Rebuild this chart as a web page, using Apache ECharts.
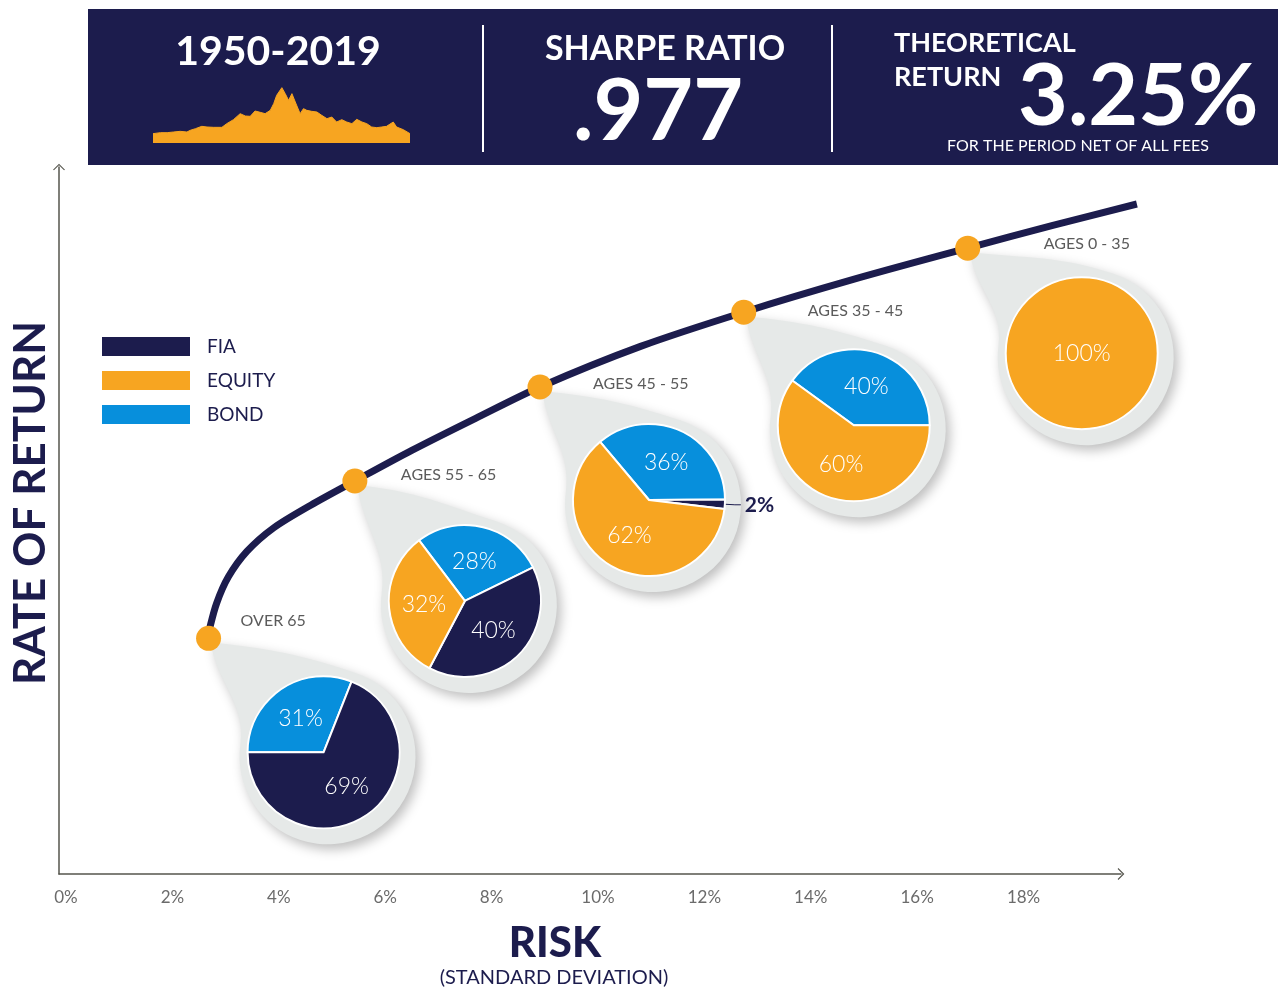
<!DOCTYPE html>
<html><head><meta charset="utf-8">
<script src="https://cdn.jsdelivr.net/npm/echarts@6/dist/echarts.min.js"></script>
<style>html,body{margin:0;padding:0;background:#fff}#c{width:1278px;height:988px}</style>
</head><body><div id="c"></div>
<script>
// ---------------- DATA ----------------
const headerPeriod = '1950-2019';
const sharpeLabel = 'SHARPE RATIO';
const sharpeRatio = '.977';
const theoreticalLabel = ['THEORETICAL', 'RETURN'];
const theoreticalReturn = '3.25%';
const periodNote = 'FOR THE PERIOD NET OF ALL FEES';

const sparkYears = [1950.0,1952.0,1953.8,1955.5,1957.3,1959.1,1960.0,1961.4,1963.1,1964.5,1966.3,1968.5,1969.8,1971.6,1973.4,1974.8,1976.1,1977.4,1978.8,1980.1,1981.5,1982.4,1983.2,1984.6,1985.5,1986.4,1987.3,1988.2,1989.5,1990.4,1991.3,1992.6,1994.0,1995.3,1996.7,1998.0,1998.4,1999.3,2000.7,2002.0,2003.4,2004.7,2006.1,2007.4,2008.7,2010.1,2011.4,2012.7,2014.5,2015.4,2017.2,2019.0];
const sparkValues = [28,31,31,33,35,33,38,43,50,48,47,47,58,70,88,81,80,96,92,88,98,118,143,166,148,128,148,123,88,103,98,95,93,83,73,78,83,63,70,63,58,71,63,58,48,46,48,50,63,48,40,28];

const riskTickStep = 2;   // tick labels every 2%
const riskTickLast = 18;  // last labelled tick: 18%
const curveRisk   = [2.67,2.70,2.83,3.05,3.40,3.90,4.60,5.43,6.50,7.70,8.91,10.80,12.74,14.80,16.95,18.55,20.13];
const curveReturn = [3.33,3.45,3.80,4.17,4.53,4.86,5.18,5.52,5.95,6.40,6.84,7.41,7.89,8.35,8.79,9.11,9.41];

const groupNames  = ['OVER 65','AGES 55 - 65','AGES 45 - 55','AGES 35 - 45','AGES 0 - 35'];
const groupRisk   = [2.68, 5.43, 8.91, 12.74, 16.95];
const groupReturn = [3.31, 5.52, 6.84, 7.89, 8.79];

const assetNames = ['FIA','EQUITY','BOND'];
const fiaPct    = [69, 40,  2,  0,   0];
const equityPct = [ 0, 32, 62, 60, 100];
const bondPct   = [31, 28, 36, 40,   0];

const xTitle = 'RISK';
const xSubtitle = '(STANDARD DEVIATION)';
const yTitle = 'RATE OF RETURN';

// ---------------- STYLE / LAYOUT ----------------
const NAVY = '#1c1c4d', ORANGE = '#f7a521', BLUE = '#078fdc', DROP = '#e6e9e8';
const FONT = 'Lato, "Noto Sans", sans-serif';
const assetColor = {FIA: NAVY, EQUITY: ORANGE, BOND: BLUE};
const pieOffset   = [[115,114],[110,120],[109,113],[110,113],[114,105]];
const pieStart    = [180, 127, 130, 144, 90];
const labelOffset = [[32,-17],[46,-6],[53,-3],[64,-1],[76,-4]];
const PIE_R = 76, BULB_R = 88, BULB_SHIFT = [4, 4];
const CHEVRON = 'path://M0,10 L10,0 L20,10 L18.4,11.2 L10,2.8 L1.6,11.2 Z';

function teardropPath(tx, ty, cx, cy, R) {
  const D = Math.PI / 180;
  const a1 = -72 * D, a2 = 188 * D;
  const p1 = [cx + R * Math.cos(a1), cy + R * Math.sin(a1)];
  const p2 = [cx + R * Math.cos(a2), cy + R * Math.sin(a2)];
  const t1 = [-Math.sin(a1), Math.cos(a1)];
  const t2 = [-Math.sin(a2), Math.cos(a2)];
  const d1 = Math.hypot(p1[0] - tx, p1[1] - ty), d2 = Math.hypot(p2[0] - tx, p2[1] - ty);
  const c1 = [tx + 0.42 * d1 * Math.cos(6 * D), ty + 0.42 * d1 * Math.sin(6 * D)];
  const c2 = [p1[0] - 0.40 * d1 * t1[0], p1[1] - 0.40 * d1 * t1[1]];
  const c3 = [p2[0] + 0.38 * d2 * t2[0], p2[1] + 0.38 * d2 * t2[1]];
  const c4 = [tx + 0.36 * d2 * Math.sin(8 * D), ty + 0.36 * d2 * Math.cos(8 * D)];
  const f = p => p[0].toFixed(2) + ',' + p[1].toFixed(2);
  return 'M' + f([tx, ty]) + ' C' + f(c1) + ' ' + f(c2) + ' ' + f(p1) +
         ' A' + R + ',' + R + ' 0 1 1 ' + f(p2) +
         ' C' + f(c3) + ' ' + f(c4) + ' ' + f([tx, ty]) + ' Z';
}

const chart = echarts.init(document.getElementById('c'));

const baseOption = {
  animation: false,
  backgroundColor: '#ffffff',
  textStyle: {fontFamily: FONT},
  legend: {
    data: assetNames, orient: 'vertical', left: 100, top: 335, padding: 0,
    itemWidth: 90, itemHeight: 21, itemGap: 11, icon: 'rect', selectedMode: false,
    textStyle: {color: NAVY, fontSize: 19, fontFamily: FONT, padding: [0, 0, 0, 11]}
  },
  grid: [
    {left: 66, right: 137.4, top: 162, bottom: 114},
    {left: 59, right: 157, top: 167, bottom: 114},
    {left: 153, width: 257, top: 87, height: 56}
  ],
  xAxis: [
    {gridIndex: 0, type: 'value', min: 0, max: 20.2, interval: riskTickStep,
     axisLine: {show: false}, axisTick: {show: false}, splitLine: {show: false},
     axisLabel: {formatter: v => (v <= riskTickLast ? v + '%' : ''), color: '#6b6b6b', fontSize: 17, margin: 15, showMaxLabel: false, fontFamily: FONT}},
    {gridIndex: 1, type: 'value', min: 0, max: 1,
     axisLine: {show: true, symbol: ['none', CHEVRON], symbolSize: [12, 7], lineStyle: {color: '#55554d', width: 1.5}},
     axisTick: {show: false}, axisLabel: {show: false}, splitLine: {show: false}},
    {gridIndex: 2, type: 'value', min: 1950, max: 2019, show: false}
  ],
  yAxis: [
    {gridIndex: 0, type: 'value', min: 0, max: 10, show: false},
    {gridIndex: 1, type: 'value', min: 0, max: 1,
     axisLine: {show: true, symbol: ['none', CHEVRON], symbolSize: [12, 7], lineStyle: {color: '#55554d', width: 1.5}},
     axisTick: {show: false}, axisLabel: {show: false}, splitLine: {show: false}},
    {gridIndex: 2, type: 'value', min: 0, max: 168, show: false}
  ],
  graphic: [
    {type: 'rect', shape: {x: 88, y: 9, width: 1190, height: 156}, style: {fill: NAVY}, z: 0},
    {type: 'line', shape: {x1: 483, y1: 25, x2: 483, y2: 152}, style: {stroke: '#fff', lineWidth: 2}},
    {type: 'line', shape: {x1: 832, y1: 25, x2: 832, y2: 152}, style: {stroke: '#fff', lineWidth: 2}},
    {type: 'text', x: 278, y: 52, style: {text: headerPeriod, fill: '#fff', fontSize: 41, fontWeight: 'bold', fontFamily: FONT, align: 'center', verticalAlign: 'middle'}},
    {type: 'text', x: 665, y: 49, style: {text: sharpeLabel, fill: '#fff', fontSize: 34, fontWeight: 'bold', fontFamily: FONT, align: 'center', verticalAlign: 'middle'}},
    {type: 'text', x: 658, y: 112, style: {text: sharpeRatio, fill: '#fff', fontSize: 86, fontWeight: 'bold', fontFamily: FONT, align: 'center', verticalAlign: 'middle'}},
    {type: 'text', x: 894, y: 43, style: {text: theoreticalLabel[0], fill: '#fff', fontSize: 27, fontWeight: 'bold', fontFamily: FONT, align: 'left', verticalAlign: 'middle'}},
    {type: 'text', x: 894, y: 77, style: {text: theoreticalLabel[1], fill: '#fff', fontSize: 27, fontWeight: 'bold', fontFamily: FONT, align: 'left', verticalAlign: 'middle'}},
    {type: 'text', x: 1018, y: 97, style: {text: theoreticalReturn, fill: '#fff', fontSize: 86, fontWeight: 'bold', fontFamily: FONT, align: 'left', verticalAlign: 'middle'}},
    {type: 'text', x: 1078, y: 146, style: {text: periodNote, fill: '#fff', fontSize: 16, fontFamily: FONT, align: 'center', verticalAlign: 'middle'}},
    {type: 'text', x: 31, y: 503, rotation: Math.PI / 2, style: {text: yTitle, fill: NAVY, fontSize: 44, fontWeight: 'bold', fontFamily: FONT, align: 'center', verticalAlign: 'middle'}},
    {type: 'text', x: 555, y: 943, style: {text: xTitle, fill: NAVY, fontSize: 42, fontWeight: 900, fontFamily: FONT, align: 'center', verticalAlign: 'middle'}},
    {type: 'text', x: 554, y: 978, style: {text: xSubtitle, fill: NAVY, fontSize: 20, fontFamily: FONT, align: 'center', verticalAlign: 'middle'}}
  ],
  series: [
    {
      type: 'custom', name: 'drops', xAxisIndex: 0, yAxisIndex: 0, z: 1, silent: true, clip: false,
      data: groupRisk.map((x, i) => [x, groupReturn[i]]),
      renderItem: function (params, api) {
        const i = params.dataIndex;
        const p = api.coord([api.value(0), api.value(1)]);
        const cx = p[0] + pieOffset[i][0] + BULB_SHIFT[0];
        const cy = p[1] + pieOffset[i][1] + BULB_SHIFT[1];
        return {
          type: 'path',
          shape: {pathData: teardropPath(p[0] + 2, p[1] + 4, cx, cy, BULB_R)},
          style: {fill: DROP, shadowBlur: 12, shadowColor: 'rgba(0,0,0,0.26)', shadowOffsetX: 4, shadowOffsetY: 5}
        };
      }
    },
    {
      type: 'line', name: 'frontier', xAxisIndex: 0, yAxisIndex: 0, z: 3, silent: true, clip: false,
      data: curveRisk.map((x, i) => [x, curveReturn[i]]),
      smooth: 0.3, showSymbol: false, symbol: 'none',
      lineStyle: {color: NAVY, width: 7}
    },
    {
      type: 'scatter', name: 'groups', xAxisIndex: 0, yAxisIndex: 0, z: 6, silent: true,
      symbolSize: 25, itemStyle: {color: ORANGE, opacity: 1},
      data: groupRisk.map((x, i) => ({
        name: groupNames[i], value: [x, groupReturn[i]],
        label: {show: true, formatter: '{b}', position: [labelOffset[i][0] + 12.5, labelOffset[i][1] + 12.5],
                align: 'left', verticalAlign: 'middle', color: '#5b5b5b', fontSize: 16, fontFamily: FONT}
      }))
    },
    {
      type: 'line', name: 'history', xAxisIndex: 2, yAxisIndex: 2, z: 5, silent: true,
      data: sparkYears.map((y, i) => [y, sparkValues[i]]),
      symbol: 'none', lineStyle: {color: ORANGE, width: 1}, areaStyle: {color: ORANGE, opacity: 1}
    }
  ]
};
chart.setOption(baseOption);

// pies positioned relative to the group points (via axis scales)
const pies = groupNames.map((g, i) => {
  const p = chart.convertToPixel({xAxisIndex: 0, yAxisIndex: 0}, [groupRisk[i], groupReturn[i]]);
  const vals = {BOND: bondPct[i], FIA: fiaPct[i], EQUITY: equityPct[i]};
  const data = ['BOND', 'FIA', 'EQUITY'].filter(n => vals[n] > 0).map(n => {
    const item = {name: n, value: vals[n], itemStyle: {color: assetColor[n]}};
    if (vals[n] < 5) {
      item.label = {position: 'outside', color: NAVY, fontSize: 21, fontWeight: 'bold', fontFamily: FONT, distanceToLabelLine: 4};
      item.labelLine = {show: true, length: 10, length2: 6, lineStyle: {color: NAVY, width: 1}};
    } else if (vals[n] === 100) {
      item.label = {position: 'center'};
    }
    return item;
  });
  return {
    type: 'pie', name: g, z: 4, silent: true,
    center: [p[0] + pieOffset[i][0], p[1] + pieOffset[i][1]],
    radius: PIE_R, startAngle: pieStart[i], clockwise: true,
    itemStyle: {borderColor: '#fff', borderWidth: 2},
    label: {show: true, position: 'inside', formatter: '{c}%', color: '#fff', fontSize: 23, fontWeight: 300, fontFamily: FONT},
    labelLine: {show: false},
    emphasis: {disabled: true},
    data: data
  };
});
chart.setOption({series: baseOption.series.concat(pies)});
</script>
</body></html>
